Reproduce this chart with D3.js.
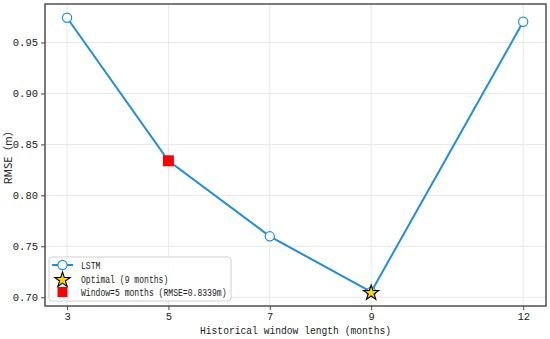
<!DOCTYPE html>
<html>
<head>
<meta charset="utf-8">
<script src="https://cdn.jsdelivr.net/npm/d3@7"></script>
<style>
  body { margin: 0; background: #fff; }
  text { font-family: "Liberation Mono", "DejaVu Sans Mono", monospace; fill: #222; }
</style>
</head>
<body>
<svg id="chart" width="550" height="339"></svg>
<script>
// window length (months) vs RMSE
var windows = [3, 5, 7, 9, 12];
var rmse = [0.9743, 0.8339, 0.7598, 0.7052, 0.9704];
var yTicks = [0.70, 0.75, 0.80, 0.85, 0.90, 0.95];
var optimalWindow = 9;
var markedWindow = 5;
var legendLabels = ["LSTM", "Optimal (9 months)", "Window=5 months (RMSE=0.8339m)"];

var svg = d3.select("#chart");
var pLeft = 45, pRight = 546, pTop = 4, pBottom = 306;
var blue = "#1f8ddb";

var x = d3.scaleLinear().domain([2.565, 12.45]).range([pLeft, pRight]);
var y = d3.scaleLinear().domain([0.6914, 0.9878]).range([pBottom, pTop]);

// grid
svg.append("g").selectAll("line").data(windows).join("line")
    .attr("x1", d => x(d)).attr("x2", d => x(d))
    .attr("y1", pTop).attr("y2", pBottom)
    .attr("stroke", "#e8e8e8").attr("stroke-width", 1);
svg.append("g").selectAll("line").data(yTicks).join("line")
    .attr("x1", pLeft).attr("x2", pRight)
    .attr("y1", d => y(d)).attr("y2", d => y(d))
    .attr("stroke", "#e8e8e8").attr("stroke-width", 1);

// axes
var xAxis = svg.append("g").attr("transform", "translate(0," + pBottom + ")")
    .call(d3.axisBottom(x).tickValues(windows).tickSize(4).tickPadding(3).tickFormat(d3.format("d")));
var yAxis = svg.append("g").attr("transform", "translate(" + pLeft + ",0)")
    .call(d3.axisLeft(y).tickValues(yTicks).tickSize(4).tickPadding(3).tickFormat(d3.format(".2f")));
[xAxis, yAxis].forEach(function(g) {
    g.select(".domain").remove();
    g.selectAll("line").attr("stroke", "#444");
    g.selectAll("text").style("font-family", "Liberation Mono, monospace").style("font-size", "10.5px").attr("fill", "#222");
});

// frame
svg.append("rect").attr("x", pLeft).attr("y", pTop)
    .attr("width", pRight - pLeft).attr("height", pBottom - pTop)
    .attr("fill", "none").attr("stroke", "#444").attr("stroke-width", 1.4);

// axis labels
svg.append("text").attr("x", (pLeft + pRight) / 2).attr("y", 334)
    .attr("text-anchor", "middle").style("font-size", "11.5px")
    .attr("textLength", 191).attr("lengthAdjust", "spacingAndGlyphs")
    .text("Historical window length (months)");
svg.append("text").attr("transform", "translate(12," + ((pTop + pBottom) / 2) + ") rotate(-90)")
    .attr("text-anchor", "middle").style("font-size", "10.5px")
    .style("font-family", "Noto Sans CJK SC, sans-serif")
    .text("RMSE（m）");

// line
var pts = windows.map((w, i) => [w, rmse[i]]);
svg.append("path").datum(pts)
    .attr("d", d3.line().x(d => x(d[0])).y(d => y(d[1])))
    .attr("fill", "none").attr("stroke", blue).attr("stroke-width", 2);
svg.append("g").selectAll("circle").data(pts).join("circle")
    .attr("cx", d => x(d[0])).attr("cy", d => y(d[1])).attr("r", 4.6)
    .attr("fill", "#fff").attr("stroke", blue).attr("stroke-width", 1.2);

// highlighted points
var mi = windows.indexOf(markedWindow);
svg.append("rect")
    .attr("x", x(markedWindow) - 5.5).attr("y", y(rmse[mi]) - 5.5)
    .attr("width", 11).attr("height", 11).attr("fill", "#ff0000");
var oi = windows.indexOf(optimalWindow);
var star = d3.symbol(d3.symbolStar, 72);
svg.append("path").attr("d", star())
    .attr("transform", "translate(" + x(optimalWindow) + "," + (y(rmse[oi]) + 1) + ")")
    .attr("fill", "#ffd700").attr("stroke", "#000").attr("stroke-width", 1.1);

// legend
var lg = svg.append("g").attr("transform", "translate(49,257)");
lg.append("rect").attr("width", 182).attr("height", 44).attr("rx", 3)
    .attr("fill", "#fff").attr("fill-opacity", 0.85).attr("stroke", "#d0d0d0");
var rowY = [8, 22, 35];
lg.append("line").attr("x1", 3).attr("x2", 24).attr("y1", rowY[0]).attr("y2", rowY[0])
    .attr("stroke", blue).attr("stroke-width", 2);
lg.append("circle").attr("cx", 13.5).attr("cy", rowY[0]).attr("r", 4.6)
    .attr("fill", "#fff").attr("stroke", blue).attr("stroke-width", 1.2);
lg.append("path").attr("d", star())
    .attr("transform", "translate(13.5," + (rowY[1] + 1) + ")")
    .attr("fill", "#ffd700").attr("stroke", "#000").attr("stroke-width", 1.1);
lg.append("rect").attr("x", 8.5).attr("y", rowY[2] - 5).attr("width", 10).attr("height", 10)
    .attr("fill", "#ff0000");
lg.selectAll("text.lab").data(legendLabels).join("text").attr("class", "lab")
    .attr("x", 32).attr("y", (d, i) => rowY[i] + 3.5)
    .style("font-size", "10.5px")
    .attr("textLength", d => d.length * 4.85).attr("lengthAdjust", "spacingAndGlyphs")
    .text(d => d);
</script>
</body>
</html>
